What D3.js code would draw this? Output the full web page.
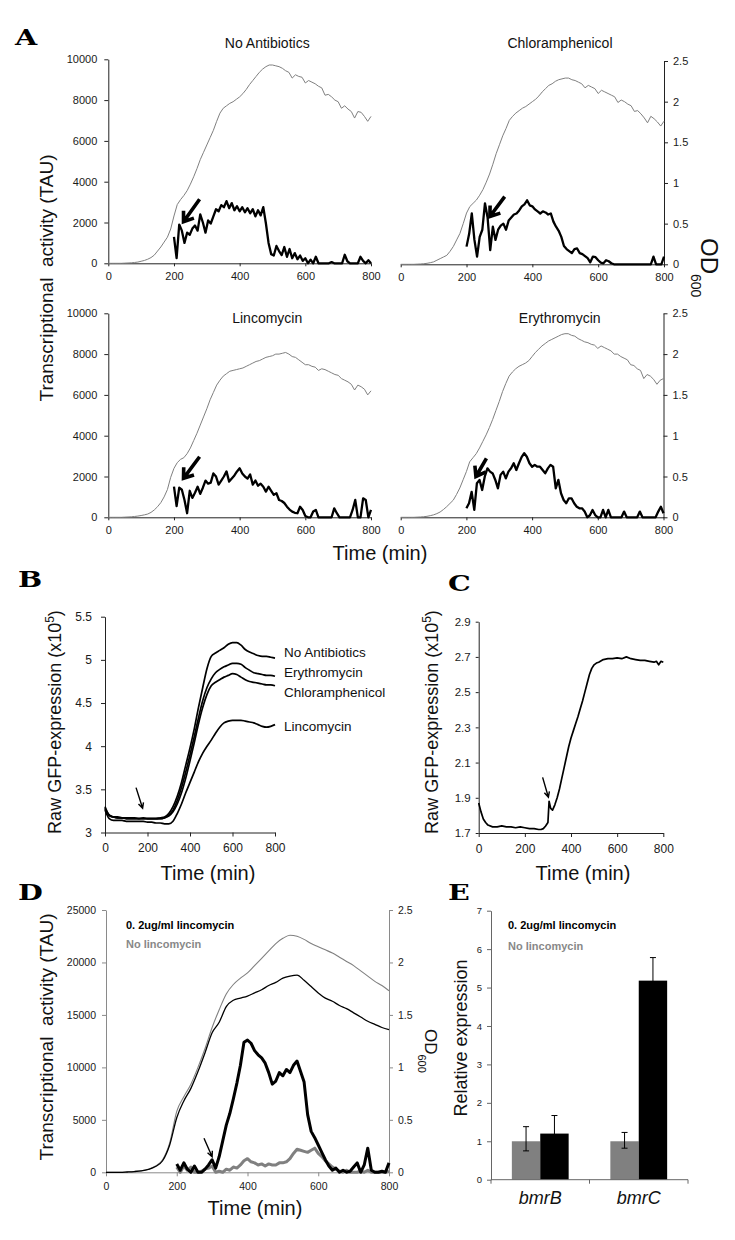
<!DOCTYPE html>
<html><head><meta charset="utf-8">
<script src="https://cdn.jsdelivr.net/npm/d3@7"></script>
<style>body{margin:0;background:#fff} svg{display:block}</style>
</head><body><svg id="c" width="735" height="1240"></svg>
<script>
// ---------------- DATA ----------------
const aTitles = ['No Antibiotics','Chloramphenicol','Lincomycin','Erythromycin'];
const aXTicks = [0,200,400,600,800];
const aTauTicks = [0,2000,4000,6000,8000,10000];
const aOdTicks = [0,0.5,1,1.5,2,2.5];
const aTimeOD = d3.range(0, 801, 10);
const aTimeTau = d3.range(200, 801, 8);

const odNoAb = [0,0,0,0,0,0.002,0.004,0.006,0.01,0.015,
 0.025,0.035,0.05,0.07,0.1,0.15,0.2,0.26,0.32,0.42,
 0.58,0.72,0.78,0.83,0.89,0.97,1.06,1.16,1.27,1.36,
 1.45,1.54,1.63,1.74,1.84,1.9,1.93,1.96,1.98,2.01,
 2.04,2.08,2.13,2.19,2.24,2.29,2.34,2.38,2.41,2.43,
 2.43,2.42,2.41,2.39,2.36,2.34,2.27,2.31,2.29,2.28,
 2.21,2.24,2.22,2.2,2.17,2.15,2.06,2.07,2.04,2.0,
 1.98,1.9,1.93,1.89,1.86,1.78,1.86,1.85,1.8,1.74,
 1.8];
const odChl = [0,0,0,0,0,0.002,0.004,0.007,0.012,0.02,
 0.03,0.05,0.07,0.09,0.11,0.16,0.22,0.3,0.38,0.5,
 0.63,0.71,0.75,0.79,0.85,0.92,1.01,1.11,1.23,1.36,
 1.47,1.58,1.67,1.77,1.82,1.86,1.89,1.92,1.94,1.97,
 2.0,2.03,2.07,2.12,2.16,2.2,2.22,2.25,2.27,2.28,
 2.29,2.29,2.27,2.26,2.24,2.22,2.17,2.2,2.18,2.16,
 2.1,2.14,2.12,2.1,2.08,2.06,1.99,2.02,2.0,1.97,
 1.95,1.88,1.89,1.85,1.8,1.74,1.82,1.79,1.75,1.7,
 1.76];
const odLinc = [0,0,0,0,0,0.002,0.004,0.006,0.01,0.015,
 0.022,0.03,0.04,0.06,0.09,0.13,0.18,0.25,0.34,0.49,
 0.6,0.67,0.71,0.73,0.78,0.85,0.94,1.03,1.13,1.23,
 1.33,1.44,1.53,1.62,1.68,1.73,1.76,1.79,1.8,1.81,
 1.82,1.83,1.85,1.87,1.89,1.91,1.92,1.94,1.96,1.97,
 1.98,2.0,2.0,2.01,2.02,2.0,1.97,1.96,1.93,1.9,
 1.87,1.87,1.85,1.84,1.8,1.82,1.81,1.79,1.77,1.75,
 1.74,1.7,1.68,1.66,1.63,1.56,1.62,1.6,1.57,1.5,
 1.55];
const odEry = [0,0,0,0,0,0.002,0.004,0.007,0.012,0.02,
 0.03,0.045,0.065,0.095,0.13,0.17,0.21,0.28,0.36,0.46,
 0.56,0.68,0.73,0.78,0.85,0.93,1.01,1.1,1.2,1.31,
 1.42,1.54,1.64,1.73,1.78,1.82,1.85,1.87,1.89,1.92,
 1.97,2.02,2.06,2.1,2.13,2.16,2.18,2.2,2.22,2.24,
 2.25,2.25,2.23,2.22,2.19,2.17,2.15,2.14,2.12,2.11,
 2.07,2.1,2.08,2.06,2.04,2.0,2.0,1.97,1.95,1.93,
 1.87,1.86,1.82,1.8,1.7,1.75,1.73,1.69,1.63,1.68,
 1.7];

const tauNoAb = [1300,250,1900,1600,1000,1500,1400,1700,1850,1600,
 2400,2000,1500,2100,1950,2300,2650,2550,2850,2750,
 3050,2700,2950,2600,2800,2550,2750,2500,2700,2450,
 2650,2300,2600,2350,2750,1950,1000,450,380,850,
 600,400,800,320,700,250,500,200,380,120,
 250,0,180,0,320,0,0,0,0,0,
 60,0,0,0,0,420,100,0,0,0,
 0,320,120,0,150,0];
const tauChl = [870,1500,2500,1200,380,1350,1700,3000,2300,700,
 1850,1200,1700,1900,2000,1700,2150,2300,2450,2500,
 2650,2850,2950,3150,2900,2850,2700,2600,2500,2600,
 2550,2450,2500,2100,1850,1650,1350,900,750,650,
 550,750,780,550,500,400,300,100,380,350,
 200,80,50,200,150,50,0,0,0,0,
 0,0,0,0,0,0,0,0,0,0,
 0,380,0,0,0,380];
const tauLinc = [1500,550,1450,1350,850,200,1300,950,1200,1500,
 1150,1450,1800,1650,1700,2150,2000,1600,1800,2000,
 2250,1750,1900,2050,2250,2400,2150,2000,1900,2100,
 1600,1800,1550,1650,1500,1260,1500,1300,1100,1180,
 850,800,700,520,380,280,220,200,520,360,
 60,0,0,280,360,0,0,0,0,0,
 0,440,200,0,0,0,0,0,360,850,
 0,0,930,850,0,360];
const tauEry = [440,690,1250,360,1670,1830,1340,2000,2400,2240,
 2150,1830,1420,2080,2240,1910,2240,2400,2650,2320,
 2650,2950,3140,2970,2650,2480,2570,2480,2480,2320,
 2160,2400,2570,2480,1420,1830,1180,850,690,930,
 930,690,520,440,440,280,0,100,360,110,
 0,0,360,0,360,0,0,0,0,0,
 280,0,0,0,0,0,280,0,0,0,
 0,0,0,280,520,200];
// arrows in data units: [tailTime, tailTAU, headTime, headTAU]
const aArrows = [[278,3140,229,2040],[316,3330,271,2350],[278,2970,229,1910],[261,2890,229,2000]];

// Panel B
const bNames = ['No Antibiotics','Erythromycin','Chloramphenicol','Lincomycin'];
const bYTicks = [3,3.5,4,4.5,5,5.5];
const bTime = d3.range(0, 801, 20);
const bNoAb = [3.3,3.2,3.18,3.18,3.17,3.17,3.17,3.17,3.16,3.17,
 3.16,3.16,3.16,3.17,3.18,3.22,3.3,3.42,3.58,3.78,
 3.98,4.2,4.45,4.68,4.9,5.04,5.08,5.11,5.14,5.18,
 5.2,5.2,5.17,5.12,5.09,5.07,5.05,5.04,5.04,5.03,
 5.02];
const bEry = [3.28,3.2,3.18,3.17,3.17,3.16,3.16,3.16,3.16,3.16,
 3.16,3.16,3.16,3.16,3.17,3.2,3.26,3.37,3.52,3.7,
 3.9,4.11,4.33,4.53,4.68,4.78,4.85,4.89,4.92,4.94,
 4.96,4.96,4.95,4.91,4.88,4.85,4.84,4.83,4.82,4.82,
 4.81];
const bChl = [3.28,3.2,3.18,3.17,3.17,3.16,3.16,3.16,3.16,3.16,
 3.16,3.16,3.16,3.16,3.17,3.19,3.24,3.33,3.46,3.63,
 3.83,4.04,4.26,4.45,4.6,4.7,4.74,4.77,4.8,4.82,
 4.84,4.83,4.8,4.77,4.75,4.74,4.73,4.72,4.71,4.71,
 4.7];
const bLinc = [3.26,3.16,3.14,3.14,3.14,3.13,3.13,3.13,3.13,3.13,
 3.12,3.12,3.11,3.11,3.1,3.1,3.13,3.22,3.33,3.46,
 3.58,3.7,3.82,3.92,4.0,4.07,4.15,4.22,4.27,4.29,
 4.3,4.3,4.3,4.29,4.28,4.27,4.25,4.23,4.22,4.23,
 4.25];
const bArrow = [146,3.52,177,3.28];

// Panel C
const cYTicks = [1.7,1.9,2.1,2.3,2.5,2.7,2.9];
const cTime = [0,10,20,30,40,60,80,100,120,140,160,180,200,220,240,260,270,280,290,300,305,312,320,330,340,350,360,370,380,390,400,410,420,430,440,450,460,470,480,490,500,510,520,540,560,580,600,620,640,660,680,700,720,740,760,770,780,790,800];
const cVal = [1.87,1.82,1.78,1.76,1.745,1.735,1.735,1.74,1.735,1.735,1.73,1.735,1.73,1.725,1.725,1.72,1.72,1.725,1.74,1.76,1.88,1.84,1.83,1.86,1.9,1.95,2.01,2.07,2.13,2.19,2.24,2.28,2.32,2.36,2.405,2.45,2.5,2.55,2.6,2.635,2.655,2.665,2.67,2.685,2.69,2.69,2.695,2.69,2.7,2.69,2.685,2.68,2.68,2.675,2.67,2.675,2.655,2.675,2.67];
const cArrow = [277,2.016,302,1.903];

// Panel D
const dTauTicks = [0,5000,10000,15000,20000,25000];
const dOdTicks = [0,0.5,1,1.5,2,2.5];
const dLegend = ['0. 2ug/ml lincomycin','No lincomycin'];
const dTimeOD = d3.range(0, 801, 20);
const dOdNoLinc = [0,0,0,0.003,0.008,0.015,0.03,0.06,0.12,0.28,
 0.58,0.72,0.84,1.0,1.18,1.38,1.55,1.7,1.79,1.85,
 1.9,1.97,2.04,2.11,2.18,2.23,2.26,2.25,2.22,2.18,
 2.15,2.12,2.09,2.05,2.01,1.97,1.92,1.87,1.82,1.78,
 1.73];
const dOdLinc = [0,0,0,0.003,0.007,0.014,0.028,0.055,0.11,0.26,
 0.52,0.68,0.8,0.96,1.14,1.33,1.43,1.58,1.64,1.66,
 1.68,1.71,1.74,1.78,1.81,1.85,1.87,1.88,1.83,1.77,
 1.71,1.66,1.63,1.59,1.56,1.52,1.48,1.44,1.41,1.38,
 1.36];
const dTimeTau = d3.range(200, 801, 10);
const dTauLinc = [800,200,900,300,0,600,0,0,300,700,
 1200,400,1500,3000,4500,5600,7000,8500,10200,12400,
 12600,12300,11600,11200,10900,10400,9500,8400,8700,9500,
 9200,9800,9500,10200,10600,9600,8600,5500,3900,3300,
 2600,1900,1200,600,200,400,0,200,0,100,
 500,900,0,700,2300,200,0,0,100,0,
 900];
const dTauNoLinc = [500,0,600,200,500,0,0,100,300,400,
 600,0,100,0,300,200,500,400,700,1100,
 1300,1000,900,700,800,600,800,700,700,900,
 900,1000,1300,1800,2200,2100,2000,1900,2100,2300,
 1800,1500,1100,800,500,300,100,0,200,0,
 0,0,100,0,200,0,0,0,0,0,
 100];
const dArrow = [277,3240,300,1490];

// Panel E
const eCats = ['bmrB','bmrC'];
const eYTicks = [0,1,2,3,4,5,6,7];
const eNoLinc = [1.0,1.0];
const eNoLincErrUp = [0.38,0.23];
const eNoLincErrDown = [0.25,0.18];
const eLinc = [1.2,5.18];
const eLincErrUp = [0.47,0.6];
const eLincErrDown = [0.47,0.6];

// ---------------- DRAWING ----------------
const FONT = '"Liberation Sans", Arial, Helvetica, sans-serif';
const GRAY = '#808080';
const svg = d3.select('#c').attr('font-family', FONT);
svg.append('rect').attr('width',735).attr('height',1240).attr('fill','#fff');

function zip(t, v){ return t.map((tt,i)=>[tt, v[i]]); }
function txt(x,y,s,o={}){ const t=svg.append('text').attr('x',x).attr('y',y).text(s); for(const k in o) t.attr(k,o[k]); return t; }
function styleAxis(g, fs, lineColor='#222', textColor='#1a1a1a'){
  g.attr('font-family', FONT).attr('font-size', fs);
  g.selectAll('.domain').attr('stroke', lineColor).attr('stroke-width', 1);
  g.selectAll('.tick line').attr('stroke', lineColor);
  g.selectAll('.tick text').attr('fill', textColor);
}
function arrow(x1,y1,x2,y2,w,L,spread){
  const ang=Math.atan2(y2-y1,x2-x1);
  const p1=[x2-L*Math.cos(ang-spread), y2-L*Math.sin(ang-spread)];
  const p2=[x2-L*Math.cos(ang+spread), y2-L*Math.sin(ang+spread)];
  svg.append('path').attr('d',`M${x1},${y1}L${x2},${y2}M${p1[0]},${p1[1]}L${x2},${y2}L${p2[0]},${p2[1]}`)
    .attr('stroke','#000').attr('stroke-width',w).attr('fill','none').attr('stroke-linejoin','miter').attr('stroke-miterlimit',4);
}
function letter(x,y,s){
  svg.append('text').attr('transform',`translate(${x},${y}) scale(1.3,1)`).text(s)
    .attr('font-family','"DejaVu Serif", serif').attr('font-weight','bold').attr('font-size',22).attr('fill','#000');
}

// ---- Panel A ----
const aLayout = [
  {x0:108.3,x1:371,y0:263.3,y1:59.3,side:'left',ty:48},
  {x0:400.7,x1:664,y0:264.3,y1:61,side:'right',ty:48},
  {x0:108.3,x1:371,y0:517.3,y1:313.3,side:'left',ty:323},
  {x0:400.7,x1:663.5,y0:517.3,y1:313.3,side:'right',ty:323}
];
const aOD = [odNoAb, odChl, odLinc, odEry];
const aTAU = [tauNoAb, tauChl, tauLinc, tauEry];
aLayout.forEach((p,i)=>{
  const x = d3.scaleLinear().domain([0,800]).range([p.x0,p.x1]);
  const yT = d3.scaleLinear().domain([0,10000]).range([p.y0,p.y1]);
  const yO = d3.scaleLinear().domain([0,2.5]).range([p.y0,p.y1]);
  const gx = svg.append('g').attr('transform',`translate(0,${p.y0})`)
    .call(d3.axisBottom(x).tickValues(aXTicks).tickSize(3).tickSizeOuter(0).tickPadding(6));
  styleAxis(gx, 11);
  if(p.side==='left'){
    const gy = svg.append('g').attr('transform',`translate(${p.x0},0)`)
      .call(d3.axisLeft(yT).tickValues(aTauTicks).tickSize(4).tickSizeOuter(0).tickPadding(7).tickFormat(d3.format('d')));
    styleAxis(gy, 11);
  } else {
    const gy = svg.append('g').attr('transform',`translate(${p.x1},0)`)
      .call(d3.axisRight(yO).tickValues(aOdTicks).tickSize(4).tickSizeOuter(0).tickPadding(5).tickFormat(d=>String(d)));
    styleAxis(gy, 11);
  }
  svg.append('path').datum(zip(aTimeOD, aOD[i]))
    .attr('d', d3.line().x(d=>x(d[0])).y(d=>yO(d[1])))
    .attr('fill','none').attr('stroke',GRAY).attr('stroke-width',1);
  svg.append('path').datum(zip(aTimeTau, aTAU[i]))
    .attr('d', d3.line().x(d=>x(d[0])).y(d=>yT(d[1])))
    .attr('fill','none').attr('stroke','#000').attr('stroke-width',2.3).attr('stroke-linejoin','round');
  const a = aArrows[i];
  arrow(x(a[0]), yT(a[1]), x(a[2]), yT(a[3]), 3.6, 11, 0.62);
  txt(p.x0 + 0.605*(p.x1-p.x0), p.ty, aTitles[i], {'text-anchor':'middle','font-size':14,'fill':'#111'});
});
letter(15,45,'A');
txt(0,0,'Transcriptional\u00A0 activity (TAU)',{'transform':'translate(53,278) rotate(-90)','text-anchor':'middle','font-size':19,'fill':'#111'});
txt(380,560,'Time (min)',{'text-anchor':'middle','font-size':20,'fill':'#111'});
{
  const t = svg.append('text').attr('transform','translate(701,238) rotate(90)').attr('font-size',24).attr('fill','#111');
  t.append('tspan').text('OD');
  t.append('tspan').text('600').attr('font-size',14).attr('dy',10);
}

// ---- Panel B ----
{
  const x = d3.scaleLinear().domain([0,800]).range([105,275]);
  const y = d3.scaleLinear().domain([3,5.5]).range([832.5,616.7]);
  const gx = svg.append('g').attr('transform','translate(0,832.5)')
    .call(d3.axisBottom(x).tickValues(aXTicks).tickSize(4).tickSizeOuter(0).tickPadding(7));
  styleAxis(gx, 12);
  const gy = svg.append('g').attr('transform','translate(105,0)')
    .call(d3.axisLeft(y).tickValues(bYTicks).tickSize(4).tickSizeOuter(0).tickPadding(9).tickFormat(d=>String(d)));
  styleAxis(gy, 12);
  const series = [bNoAb, bEry, bChl, bLinc];
  series.forEach(s=>{
    svg.append('path').datum(zip(bTime, s))
      .attr('d', d3.line().x(d=>x(d[0])).y(d=>y(d[1])).curve(d3.curveMonotoneX))
      .attr('fill','none').attr('stroke','#000').attr('stroke-width',1.7);
  });
  const ly = [652, 672, 692, 726];
  bNames.forEach((n,i)=> txt(284, ly[i]+5, n, {'font-size':13.5,'fill':'#111'}));
  arrow(x(bArrow[0]), y(bArrow[1]), x(bArrow[2]), y(bArrow[3]), 1.4, 6, 0.45);
  txt(208,880,'Time (min)',{'text-anchor':'middle','font-size':20,'fill':'#111'});
  const t = svg.append('text').attr('transform','translate(61,722) rotate(-90)').attr('text-anchor','middle').attr('font-size',18).attr('fill','#111');
  t.append('tspan').text('Raw GFP-expression (x10');
  t.append('tspan').text('5').attr('font-size',12).attr('dy',-7);
  t.append('tspan').text(')').attr('dy',7);
  letter(18,587,'B');
}

// ---- Panel C ----
{
  const x = d3.scaleLinear().domain([0,800]).range([478.7,663.3]);
  const y = d3.scaleLinear().domain([1.7,2.9]).range([833,621.7]);
  const gx = svg.append('g').attr('transform','translate(0,833)')
    .call(d3.axisBottom(x).tickValues(aXTicks).tickSize(4).tickSizeOuter(0).tickPadding(7));
  styleAxis(gx, 12);
  const gy = svg.append('g').attr('transform','translate(478.7,0)')
    .call(d3.axisLeft(y).tickValues(cYTicks).tickSize(3).tickSizeOuter(0).tickPadding(5).tickFormat(d3.format('.1f')));
  styleAxis(gy, 11.5);
  svg.append('path').datum(zip(cTime, cVal))
    .attr('d', d3.line().x(d=>x(d[0])).y(d=>y(d[1])))
    .attr('fill','none').attr('stroke','#000').attr('stroke-width',1.7).attr('stroke-linejoin','round');
  arrow(x(cArrow[0]), y(cArrow[1]), x(cArrow[2]), y(cArrow[3]), 1.4, 6, 0.45);
  txt(583,880,'Time (min)',{'text-anchor':'middle','font-size':20,'fill':'#111'});
  const t = svg.append('text').attr('transform','translate(438,722) rotate(-90)').attr('text-anchor','middle').attr('font-size',18).attr('fill','#111');
  t.append('tspan').text('Raw GFP-expression (x10');
  t.append('tspan').text('5').attr('font-size',12).attr('dy',-7);
  t.append('tspan').text(')').attr('dy',7);
  letter(448,591,'C');
}

// ---- Panel D ----
{
  const x = d3.scaleLinear().domain([0,800]).range([106,389]);
  const yT = d3.scaleLinear().domain([0,25000]).range([1172.3,910]);
  const yO = d3.scaleLinear().domain([0,2.5]).range([1172.3,910]);
  const AX = '#8a8a8a';
  const gx = svg.append('g').attr('transform','translate(0,1172.3)')
    .call(d3.axisBottom(x).tickValues(aXTicks).tickSize(4).tickSizeOuter(0).tickPadding(6));
  styleAxis(gx, 10.5, AX);
  const gy = svg.append('g').attr('transform','translate(106,0)')
    .call(d3.axisLeft(yT).tickValues(dTauTicks).tickSize(4).tickSizeOuter(0).tickPadding(6).tickFormat(d3.format('d')));
  styleAxis(gy, 10.5, AX);
  const gy2 = svg.append('g').attr('transform','translate(389,0)')
    .call(d3.axisRight(yO).tickValues(dOdTicks).tickSize(4).tickSizeOuter(0).tickPadding(5).tickFormat(d=>String(d)));
  styleAxis(gy2, 10.5, AX);
  svg.append('path').datum(zip(dTimeOD, dOdNoLinc))
    .attr('d', d3.line().x(d=>x(d[0])).y(d=>yO(d[1])).curve(d3.curveMonotoneX))
    .attr('fill','none').attr('stroke',GRAY).attr('stroke-width',1.1);
  svg.append('path').datum(zip(dTimeOD, dOdLinc))
    .attr('d', d3.line().x(d=>x(d[0])).y(d=>yO(d[1])).curve(d3.curveMonotoneX))
    .attr('fill','none').attr('stroke','#000').attr('stroke-width',1.3);
  svg.append('path').datum(zip(dTimeTau, dTauNoLinc))
    .attr('d', d3.line().x(d=>x(d[0])).y(d=>yT(d[1])))
    .attr('fill','none').attr('stroke',GRAY).attr('stroke-width',3).attr('stroke-linejoin','round');
  svg.append('path').datum(zip(dTimeTau, dTauLinc))
    .attr('d', d3.line().x(d=>x(d[0])).y(d=>yT(d[1])))
    .attr('fill','none').attr('stroke','#000').attr('stroke-width',3).attr('stroke-linejoin','round');
  arrow(x(dArrow[0]), yT(dArrow[1]), x(dArrow[2]), yT(dArrow[3]), 1.4, 6, 0.45);
  txt(126,929,dLegend[0],{'font-size':11,'font-weight':'bold','fill':'#000'});
  txt(126,948,dLegend[1],{'font-size':11,'font-weight':'bold','fill':'#888'});
  txt(255,1215,'Time (min)',{'text-anchor':'middle','font-size':20,'fill':'#111'});
  txt(0,0,'Transcriptional\u00A0 activity (TAU)',{'transform':'translate(53,1037) rotate(-90)','text-anchor':'middle','font-size':19,'fill':'#111'});
  const t = svg.append('text').attr('transform','translate(425,1029) rotate(90)').attr('font-size',17).attr('fill','#111');
  t.append('tspan').text('OD');
  t.append('tspan').text('600').attr('font-size',11).attr('dy',7);
  letter(18,900,'D');
}

// ---- Panel E ----
{
  const xE = d3.scaleBand().domain(eCats).range([491,688]);
  const xSub = d3.scaleBand().domain(['no','lin']).range([0,xE.bandwidth()]).paddingOuter(0.734);
  const y = d3.scaleLinear().domain([0,7]).range([1179.7,910.7]);
  const AX = '#666';
  const gy = svg.append('g').attr('transform','translate(491,0)')
    .call(d3.axisLeft(y).tickValues(eYTicks).tickSize(4).tickSizeOuter(0).tickPadding(5).tickFormat(d3.format('d')));
  styleAxis(gy, 9.5, AX);
  const groups = [
    {key:'no', vals:eNoLinc, up:eNoLincErrUp, down:eNoLincErrDown, color:GRAY},
    {key:'lin', vals:eLinc, up:eLincErrUp, down:eLincErrDown, color:'#000'}
  ];
  groups.forEach(g=>{
    eCats.forEach((c,i)=>{
      const bx = xE(c) + xSub(g.key);
      svg.append('rect').attr('x',bx).attr('y',y(g.vals[i])).attr('width',xSub.bandwidth()).attr('height',y(0)-y(g.vals[i])).attr('fill',g.color);
    });
  });
  groups.forEach(g=>{
    eCats.forEach((c,i)=>{
      const cx = xE(c) + xSub(g.key) + xSub.bandwidth()/2;
      const yt = y(g.vals[i]+g.up[i]), yb = y(g.vals[i]-g.down[i]);
      svg.append('path').attr('d',`M${cx},${yt}L${cx},${yb}M${cx-3},${yt}L${cx+3},${yt}M${cx-3},${yb}L${cx+3},${yb}`)
        .attr('stroke','#000').attr('stroke-width',1).attr('fill','none');
    });
  });
  const xr = xE.range();
  svg.append('path').attr('d',`M${xr[0]},${y(0)}L${xr[1]},${y(0)}`).attr('stroke',AX).attr('stroke-width',1);
  const bounds = [xr[0]].concat(eCats.map(c=>xE(c)+xE.bandwidth()));
  bounds.forEach(b=> svg.append('path').attr('d',`M${b},${y(0)}L${b},${y(0)+4}`).attr('stroke',AX));
  eCats.forEach(c=> txt(xE(c)+xE.bandwidth()/2, 1204, c, {'text-anchor':'middle','font-size':18,'font-style':'italic','fill':'#111'}));
  txt(508,929,dLegend[0],{'font-size':11,'font-weight':'bold','fill':'#000'});
  txt(508,950,dLegend[1],{'font-size':11,'font-weight':'bold','fill':'#888'});
  txt(0,0,'Relative expression',{'transform':'translate(467,1038) rotate(-90)','text-anchor':'middle','font-size':18,'fill':'#111'});
  letter(448,900,'E');
}
</script></body></html>
